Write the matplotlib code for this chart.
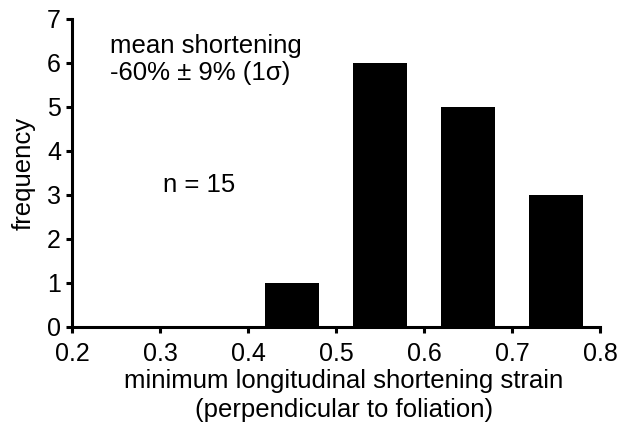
import numpy as np
import matplotlib.pyplot as plt

plt.rcParams['font.family'] = ['Liberation Sans', 'DejaVu Sans']

strain = [0.45, 0.55, 0.65, 0.75]
freq = [1, 6, 5, 3]
xticks = [0.2, 0.3, 0.4, 0.5, 0.6, 0.7, 0.8]

fig = plt.figure(figsize=(6.18, 4.26), dpi=100)
ax = fig.add_axes([0.1165, 0.2324, 0.8545, 0.723])

ax.bar(strain, freq, width=0.061, color="black", zorder=2)

ax.set_xlim(0.2, 0.8)
ax.set_ylim(0, 7)
ax.set_xticks(xticks)
ax.set_xticklabels(["%.1f" % t for t in xticks])
ax.set_yticks(range(0, 8))

for s in ["top", "right"]:
    ax.spines[s].set_visible(False)
for s in ["left", "bottom"]:
    ax.spines[s].set_linewidth(2.2)
ax.tick_params(direction="out", length=4, width=2.2, labelsize=18, pad=4)
ax.tick_params(axis="x", pad=7)

ax.set_xlabel("minimum longitudinal shortening strain\n(perpendicular to foliation)", fontsize=18.5, linespacing=1.3)
ax.xaxis.set_label_coords(0.515, -0.135, transform=ax.transAxes)
ax.xaxis.label.set_va("top")
ax.set_ylabel("frequency", fontsize=18.5, labelpad=8)

ax.text(0.243, 6.07, "mean shortening\n-60% \u00b1 9% (1\u03c3)", fontsize=18.5, va="center", ha="left", linespacing=1.15)
ax.text(0.303, 3.23, "n = 15", fontsize=18.5, va="center", ha="left")

fig.savefig("out.png", dpi=100)
